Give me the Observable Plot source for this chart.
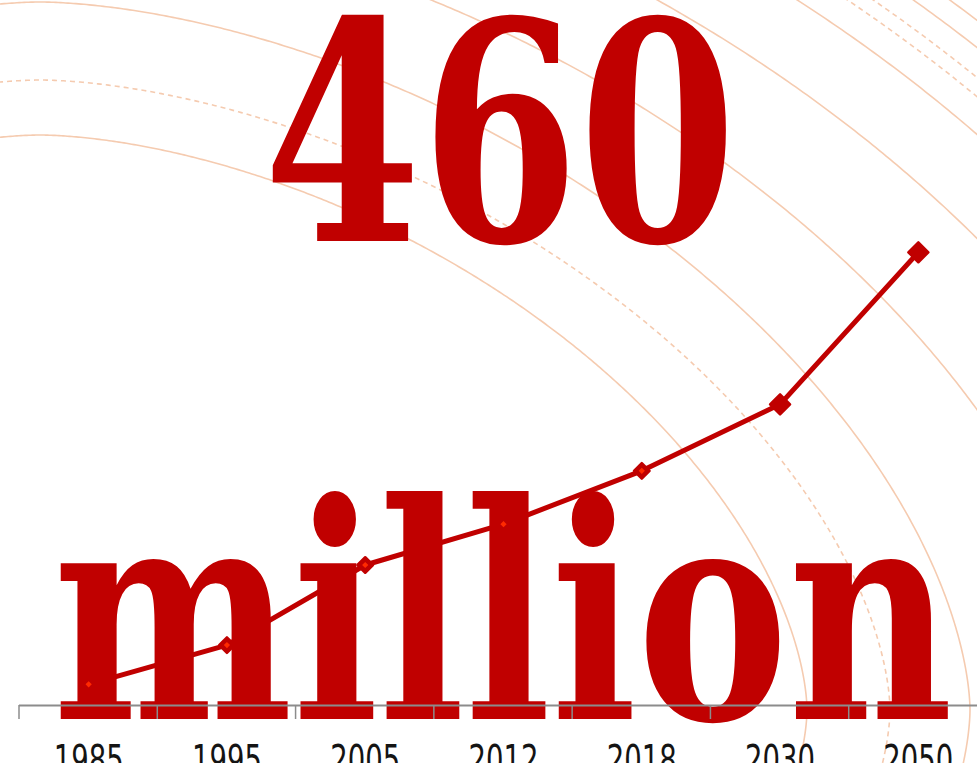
<!DOCTYPE html>
<html><head><meta charset="utf-8">
<script src="https://cdn.jsdelivr.net/npm/d3@7"></script>
<script src="https://cdn.jsdelivr.net/npm/@observablehq/plot@0.6"></script>
<style>html,body{margin:0;padding:0;background:#fff;overflow:hidden}</style>
</head><body><div id="chart"></div>
<script>
// ---- data ----
const years = ["1985", "1995", "2005", "2012", "2018", "2030", "2050"];
const values = [42, 120, 279, 360, 466, 598, 900];           // millions
const projected = [false, false, false, false, false, true, true];
const headline = "460";
const unitWord = "million";

const data = years.map((year, i) => ({i, year, value: values[i], projected: projected[i]}));

// ---- style ----
const RED = "#c00000";
const BRIGHT = "#ff2a00";
const GREY = "#8c8c8c";
const RING = "#f5cbb0";

// decorative background rings (superellipses around a point near the lower-left)
const ringCenter = [40, 710];
const ringExp = 1.7;
const rings = [
  {rx: 767, ry: 575, dashed: false},
  {rx: 850, ry: 630, dashed: true},
  {rx: 930, ry: 708, dashed: false},
  {rx: 1060, ry: 800, dashed: false},
  {rx: 1192, ry: 896, dashed: false},
  {rx: 1284, ry: 966, dashed: false},
  {rx: 1320, ry: 992, dashed: true},
  {rx: 1338, ry: 1006, dashed: true},
  {rx: 1367, ry: 1028, dashed: false},
  {rx: 1394, ry: 1048, dashed: false}
];

function ringsMark() {
  const g = d3.create("svg:g").attr("fill", "none").attr("stroke", RING).attr("stroke-width", 1.6);
  const [cx, cy] = ringCenter;
  const e = 2 / ringExp;
  const pw = (v) => Math.sign(v) * Math.pow(Math.abs(v), e);
  for (const r of rings) {
    const pts = d3.range(0, 1201).map(k => {
      const t = -Math.PI / 2 + (k / 1200) * 1.5 * Math.PI;
      return [cx + r.rx * pw(Math.cos(t)), cy - r.ry * pw(Math.sin(t))];
    });
    g.append("path").attr("d", d3.line()(pts)).attr("stroke-dasharray", r.dashed ? "5,4" : null);
  }
  return g.node();
}

function headlineMark() {
  const g = d3.create("svg:g").attr("fill", RED)
    .attr("font-family", "'DejaVu Serif', serif").attr("font-weight", "bold");
  g.append("text").attr("x", 500).attr("y", 241).attr("text-anchor", "middle")
    .attr("font-size", 305).attr("textLength", 473).attr("lengthAdjust", "spacingAndGlyphs")
    .text(headline);
  g.append("text").attr("x", 503).attr("y", 719).attr("text-anchor", "middle")
    .attr("font-size", 300).attr("textLength", 900).attr("lengthAdjust", "spacingAndGlyphs")
    .text(unitWord);
  return g.node();
}

// tick marks at the category boundaries, positioned through the x scale
const boundaries = d3.range(years.length + 1).map(i => i - 0.5);
function boundaryTicks(index, scales, values, dims) {
  const g = d3.create("svg:g").attr("stroke", GREY).attr("stroke-width", 1.5);
  const y0 = dims.height - dims.marginBottom;
  for (const b of boundaries) {
    const x = scales.x(b);
    g.append("line").attr("x1", x).attr("x2", x).attr("y1", y0).attr("y2", y0 + 14);
  }
  return g.node();
}

const chart = Plot.plot({
  width: 977,
  height: 763,
  marginLeft: 19,
  marginRight: -10,
  marginTop: 0,
  marginBottom: 58,
  style: {overflow: "hidden", background: "#fff"},
  x: {type: "linear", domain: [-0.5, years.length - 0.5], label: null},
  y: {domain: [0, 1400], axis: null, label: null},
  marks: [
    ringsMark,
    headlineMark,
    Plot.ruleY([0], {stroke: GREY, strokeWidth: 2}),
    boundaryTicks,
    Plot.line(data, {x: "i", y: "value", stroke: RED, strokeWidth: 5, strokeLinejoin: "round"}),
    Plot.dot(data, {filter: d => !d.projected, x: "i", y: "value", symbol: "diamond2", r: 7, fill: RED, stroke: RED, strokeWidth: 2.5, strokeLinejoin: "round"}),
    Plot.dot(data, {filter: d => d.projected, x: "i", y: "value", symbol: "diamond2", r: 9, fill: RED, stroke: RED, strokeWidth: 2.5, strokeLinejoin: "round"}),
    Plot.dot(data, {filter: d => !d.projected, x: "i", y: "value", symbol: "diamond2", r: 2.8, fill: BRIGHT}),
    Plot.axisX({ticks: d3.range(years.length), tickSize: 0, tickPadding: 40, tickFormat: i => years[i],
      fontSize: 40, fontFamily: "'DejaVu Sans', sans-serif", fill: "#141414", label: null})
  ]
});

document.getElementById("chart").appendChild(chart);
d3.select(chart).selectAll('g[aria-label="x-axis tick label"] text')
  .attr("textLength", 70).attr("lengthAdjust", "spacingAndGlyphs");
</script>
</body></html>
